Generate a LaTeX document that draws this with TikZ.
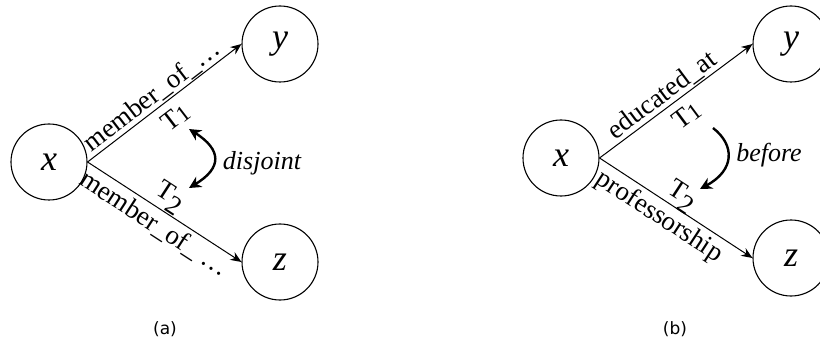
\documentclass[tikz,border=0pt]{standalone}
\usepackage{fontspec}
\setmainfont{Liberation Serif}
\newfontfamily\capfont{DejaVu Sans}
\usetikzlibrary{arrows.meta}
\newcommand{\tone}{T{\fontsize{23}{23}\selectfont\raisebox{-0.08em}{1}}}
\newcommand{\ttwo}{T\raisebox{-0.3em}{2}}
\begin{document}
\begin{tikzpicture}[x=1pt,y=-1pt,
  ent/.style={circle,draw,line width=1.1pt,minimum size=76pt,inner sep=0pt,
    font=\fontsize{36}{36}\selectfont\itshape},
  rel/.style={line width=1pt,-{Stealth[length=11pt,width=9pt]}},
  lab/.style={font=\fontsize{27}{27}\selectfont,sloped,inner sep=1pt},
  curv/.style={line width=2.4pt},
  tipA/.style={-{Stealth[length=12pt,width=12pt]}},
  tipB/.style={{Stealth[length=12pt,width=12pt]}-{Stealth[length=12pt,width=12pt]}},
  annot/.style={font=\fontsize{26}{26}\selectfont\itshape,inner sep=0pt},
  captxt/.style={font=\fontsize{17}{17}\selectfont\capfont,inner sep=0pt}]
\useasboundingbox (0,0) rectangle (820,350);
% panel (a)
\node[ent] (xa) at (49,162) {x};
\node[ent] (ya) at (280,44) {y};
\node[ent] (za) at (280,262) {z};
\draw[rel] (xa.east) -- node[lab,above,pos=0.47]{member\_of\_…}
  node[lab,below=7pt,pos=0.5]{\tone} (ya.west);
\draw[rel] (xa.east) -- node[lab,below=3pt,pos=0.49]{member\_of\_ …}
  node[lab,above=0pt,pos=0.48]{\ttwo} (za.west);
\coordinate (a1) at (189,129);
\coordinate (a2) at (189,188);
\draw[curv,tipB] (a1) .. controls (222,150) and (222,168) .. (a2);
\node[annot] (dj) at (262,163) {disjoint};
\node[captxt] (ca) at (165,329) {(a)};
% panel (b)
\node[ent] (xb) at (561,158) {x};
\node[ent] (yb) at (791,44) {y};
\node[ent] (zb) at (791,258) {z};
\draw[rel] (xb.east) -- node[lab,above,pos=0.46]{educated\_at}
  node[lab,below=7pt,pos=0.5]{\tone} (yb.west);
\draw[rel] (xb.east) -- node[lab,below=3pt,pos=0.45]{professorship}
  node[lab,above=-2pt,pos=0.49]{\ttwo} (zb.west);
\coordinate (b1) at (713,128);
\coordinate (b2) at (700,189);
\draw[curv,tipA] (b1) .. controls (735,145) and (735,170) .. (b2);
\node[annot] (bf) at (769,155) {before};
\node[captxt] (cb) at (675,329) {(b)};
\end{tikzpicture}
\end{document}
